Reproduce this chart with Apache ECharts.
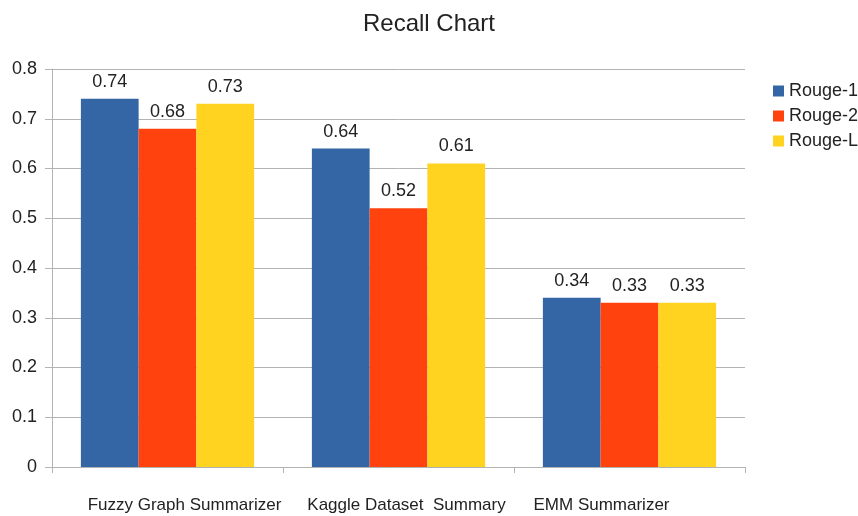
<!DOCTYPE html>
<html><head><meta charset="utf-8">
<script src="https://cdn.jsdelivr.net/npm/echarts@6/dist/echarts.min.js"></script>
<style>html,body{margin:0;padding:0;background:#fff}#c{width:858px;height:516px}</style>
</head><body><div id="c"></div>
<script>
const categories = ['Fuzzy Graph Summarizer', 'Kaggle Dataset  Summary', 'EMM Summarizer'];
const seriesNames = ['Rouge-1', 'Rouge-2', 'Rouge-L'];
const rouge1 = [0.74, 0.64, 0.34];
const rouge2 = [0.68, 0.52, 0.33];
const rougeL = [0.73, 0.61, 0.33];
const colors = ['#3465a4', '#ff420e', '#ffd320'];
const font = 'Liberation Sans, Arial, sans-serif';

// horizontal nudge of each category label (layout only)
const labelShift = [17, 8, -28];
const catData = categories.map((c, i) => ({
  value: c,
  textStyle: { padding: labelShift[i] >= 0 ? [0, 0, 0, 2 * labelShift[i]] : [0, -2 * labelShift[i], 0, 0] }
}));

const chart = echarts.init(document.getElementById('c'));
const mk = (name, data, color) => ({
  name, type: 'bar', data, barGap: '0%', barCategoryGap: '25%',
  itemStyle: { color },
  label: { show: true, position: 'top', distance: 8, color: '#222', fontSize: 18, fontFamily: font }
});
chart.setOption({
  animation: false,
  title: { text: 'Recall Chart', left: 'center', top: 7, textStyle: { fontSize: 24, fontWeight: 'normal', color: '#222', fontFamily: font } },
  legend: {
    orient: 'vertical', left: 768, top: 77, itemWidth: 11, itemHeight: 11, itemGap: 7,
    icon: 'rect', textStyle: { fontSize: 18, color: '#222', fontFamily: font }
  },
  grid: { left: 52, right: 113, top: 69, bottom: 49, containLabel: false },
  xAxis: {
    type: 'category', data: catData,
    axisLine: { lineStyle: { color: '#b3b3b3' } },
    axisTick: { show: true, length: 6, interval: 0, lineStyle: { color: '#b3b3b3' } },
    axisLabel: { interval: 0, hideOverlap: false, margin: 30, fontSize: 17, color: '#222', fontFamily: font }
  },
  yAxis: {
    type: 'value', min: 0, max: 0.8, interval: 0.1,
    axisLine: { show: true, lineStyle: { color: '#b3b3b3' } },
    axisTick: { show: true, length: 7, lineStyle: { color: '#b3b3b3' } },
    splitLine: { lineStyle: { color: '#b3b3b3' } },
    axisLabel: { margin: 15, fontSize: 18, color: '#222', fontFamily: font }
  },
  series: [mk(seriesNames[0], rouge1, colors[0]), mk(seriesNames[1], rouge2, colors[1]), mk(seriesNames[2], rougeL, colors[2])]
});
</script></body></html>
